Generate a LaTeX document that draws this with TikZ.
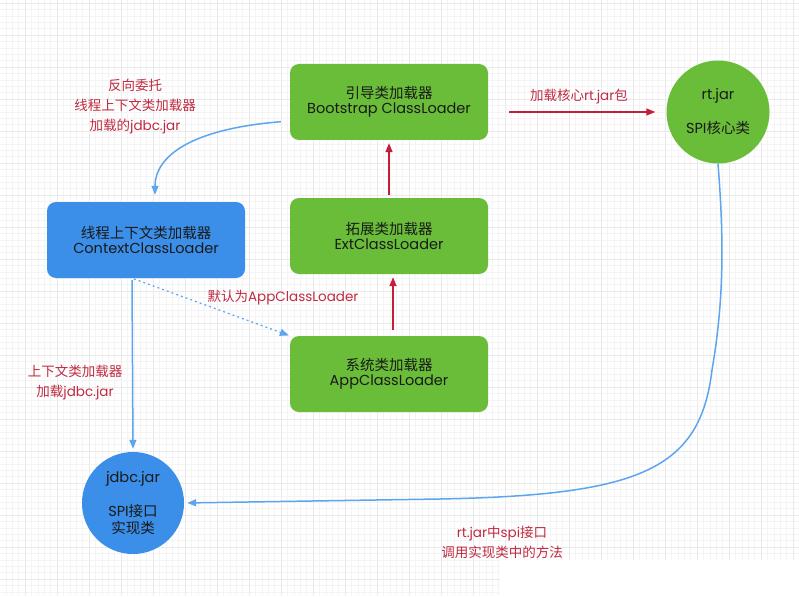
\documentclass[tikz,border=0pt]{standalone}
\usepackage{fontspec}
\setmainfont{Poppins}
\newfontfamily\cjk{Noto Sans CJK SC}
\usetikzlibrary{arrows.meta,shapes.geometric}
\definecolor{boxgreen}{HTML}{6ABD38}
\definecolor{boxblue}{HTML}{3B8FE8}
\definecolor{lblred}{HTML}{C02A40}
\definecolor{arrred}{HTML}{C41E3A}
\definecolor{linkblue}{HTML}{5EA5F0}
\definecolor{gridminor}{HTML}{F4F4F4}
\definecolor{gridmajor}{HTML}{EAEAEA}
\tikzset{
  loaderbox/.style={rectangle, rounded corners=9pt, minimum width=198pt, minimum height=76pt,
    align=center, text=black!90, font=\fontsize{14.5}{15.5}\selectfont, inner sep=2pt},
  greenbox/.style={loaderbox, fill=boxgreen},
  bluebox/.style={loaderbox, fill=boxblue},
  jarcircle/.style={circle, inner sep=0pt, align=center, text=black!90,
    font=\fontsize{14.5}{17}\selectfont},
  redlabel/.style={text=lblred, align=center, font=\fontsize{13.5}{20}\selectfont, inner sep=0pt},
  redarrow/.style={draw=arrred, line width=1.4pt, -{Triangle[length=9pt,width=7pt]}},
  bluearrow/.style={draw=linkblue, line width=1.5pt, -{Triangle[length=9pt,width=7pt]}},
}
\begin{document}
\begin{tikzpicture}[x=1pt,y=-1pt]
\useasboundingbox (0,0) rectangle (799,596);
\fill[white] (0,0) rectangle (799,596);
% grid
\foreach \i in {0,...,125} {\draw[gridminor, line width=0.4pt] ({5.8+6.4*\i},0) -- ({5.8+6.4*\i},596);}
\foreach \i in {0,...,93} {\draw[gridminor, line width=0.4pt] (0,{3+6.4*\i}) -- (799,{3+6.4*\i});}
\foreach \i in {0,...,24} {\draw[gridmajor, line width=0.6pt] ({25+32*\i},0) -- ({25+32*\i},596);}
\foreach \i in {0,...,18} {\draw[gridmajor, line width=0.6pt] (0,{3+32*\i}) -- (799,{3+32*\i});}
\fill[white] (500,560) rectangle (799,596);

% nodes
\node[greenbox] (boot) at (389,102) {{\cjk 引导类加载器}\\Bootstrap ClassLoader};
\node[greenbox] (ext) at (389,236) {{\cjk 拓展类加载器}\\ExtClassLoader};
\node[greenbox] (app) at (389,374) {{\cjk 系统类加载器}\\AppClassLoader};
\node[bluebox] (ctx) at (146,240) {{\cjk 线程上下文类加载器}\\ContextClassLoader};
\node[jarcircle, fill=boxgreen, minimum size=103pt] (rt) at (718,112) {rt.jar\\[17pt]SPI{\cjk 核心类}};
\node[jarcircle, fill=boxblue, minimum size=102pt] (jdbc) at (133,503) {jdbc.jar\\[17pt]SPI{\cjk 接口}\\{\cjk 实现类}};

% labels
\node[redlabel] (l1) at (135,107) {{\cjk 反向委托}\\{\cjk 线程上下文类加载器}\\{\cjk 加载的}jdbc.jar};
\node[redlabel] (l2) at (579,97) {{\cjk 加载核心}rt.jar{\cjk 包}};
\node[redlabel] (l3) at (283,298) {{\cjk 默认为}AppClassLoader};
\node[redlabel] (l4) at (75,383) {{\cjk 上下文类加载器}\\{\cjk 加载}jdbc.jar};
\node[redlabel] (l5) at (502,542) {rt.jar{\cjk 中}spi{\cjk 接口}\\{\cjk 调用实现类中的方法}};

% red arrows
\draw[redarrow, shorten <=21pt, shorten >=11pt] (boot.east |- rt.west) -- (rt.west);
\draw[redarrow, shorten <=3pt, shorten >=3pt] (ext.north) -- (boot.south);
\draw[redarrow, shorten <=6pt, shorten >=3pt] ([xshift=4pt]app.north) -- ([xshift=4pt]ext.south);

% blue connectors
\draw[bluearrow, shorten <=9pt, shorten >=7pt] ([yshift=-19pt]boot.west) .. controls +(-100,8) and ([xshift=9pt,yshift=45pt]ctx.north) .. ([xshift=9pt]ctx.north);
\draw[bluearrow, line width=1.2pt, dash pattern=on 2pt off 3pt, shorten <=2pt, shorten >=1pt] ([xshift=-14pt]ctx.south) -- (app.north west);
\draw[bluearrow, shorten <=2pt, shorten >=3pt] ([xshift=-14pt]ctx.south) -- (jdbc.north);
\draw[bluearrow, shorten >=3pt] (rt.south) .. controls (724,240) and (724,300) .. (712,370) .. controls (700,470) and (640,495) .. (440,499) -- (jdbc.east);
\end{tikzpicture}
\end{document}
